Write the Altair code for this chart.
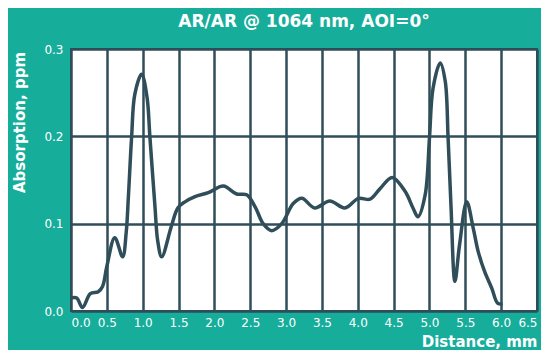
import altair as alt
import pandas as pd

distance_mm = [0.0, 0.08, 0.16, 0.27, 0.38, 0.44, 0.50, 0.61, 0.72, 0.77, 0.80, 0.846,
               0.89, 0.985, 1.06, 1.10, 1.17, 1.21, 1.265, 1.40, 1.49,
               1.59, 1.73, 1.915, 2.125, 2.31, 2.45, 2.57, 2.68, 2.80, 2.94, 3.10, 3.22,
               3.40, 3.61, 3.82, 4.01, 4.17, 4.31, 4.48, 4.66, 4.77, 4.84, 4.94, 5.00,
               5.05, 5.15, 5.22, 5.26, 5.30, 5.355, 5.42, 5.52, 5.61, 5.68, 5.77, 5.87,
               5.95, 6.02]
absorption_ppm = [0.015, 0.015, 0.004, 0.020, 0.022, 0.028, 0.051, 0.084, 0.062, 0.090,
                  0.130, 0.200, 0.248, 0.271, 0.245, 0.200, 0.121, 0.080,
                  0.062, 0.097, 0.118, 0.125, 0.131, 0.1355, 0.143, 0.134, 0.133, 0.119,
                  0.100, 0.092, 0.100, 0.123, 0.129, 0.118, 0.126, 0.118, 0.129, 0.128,
                  0.140, 0.153, 0.137, 0.118, 0.108, 0.133, 0.198, 0.255, 0.284, 0.263,
                  0.198, 0.121, 0.034, 0.076, 0.125, 0.095, 0.068, 0.045, 0.026, 0.009,
                  0.008]
x_ticks = [0.0, 0.5, 1.0, 1.5, 2.0, 2.5, 3.0, 3.5, 4.0, 4.5, 5.0, 5.5, 6.0, 6.5]
y_ticks = [0.0, 0.1, 0.2, 0.3]

df = pd.DataFrame({"d": distance_mm, "a": absorption_ppm})

DARK = "#2f4e5a"
TEAL = "#17ad9b"
FONT = "DejaVu Sans"

chart = alt.Chart(df).mark_line(
    interpolate="catmull-rom", color=DARK, strokeWidth=3.5
).encode(
    x=alt.X("d:Q", scale=alt.Scale(domain=[0, 6.5], nice=False),
            axis=alt.Axis(values=x_ticks, format=".1f", title="Distance, mm",
                          titleX=466, titleY=35, titleAlign="right",
                          titleBaseline="alphabetic", labelPadding=6)),
    y=alt.Y("a:Q", scale=alt.Scale(domain=[0, 0.3], nice=False),
            axis=alt.Axis(values=y_ticks, format=".1f", title="Absorption, ppm",
                          titleX=-52, titleY=73, titleAngle=-90, titleAlign="center",
                          titleBaseline="middle", labelPadding=8)),
).properties(
    width=466, height=262,
    autosize=alt.AutoSizeParams(type="none"),
    padding={"left": 63, "top": 41, "right": 4, "bottom": 39},
    background=TEAL,
    title=alt.Title("AR/AR @ 1064 nm, AOI=0°", anchor="middle", fontSize=17,
                    fontWeight="bold", color="white", font=FONT, offset=12),
).configure_view(
    fill="white", stroke=DARK, strokeWidth=2
).configure_axis(
    grid=True, gridColor=DARK, gridWidth=2.5, gridOpacity=1,
    ticks=False, domain=False,
    labelColor="white", labelFont=FONT, labelFontSize=12,
    titleColor="white", titleFont=FONT, titleFontSize=15, titleFontWeight="bold",
)

chart.save("out.html", embed_options={"renderer": "svg", "actions": False})
